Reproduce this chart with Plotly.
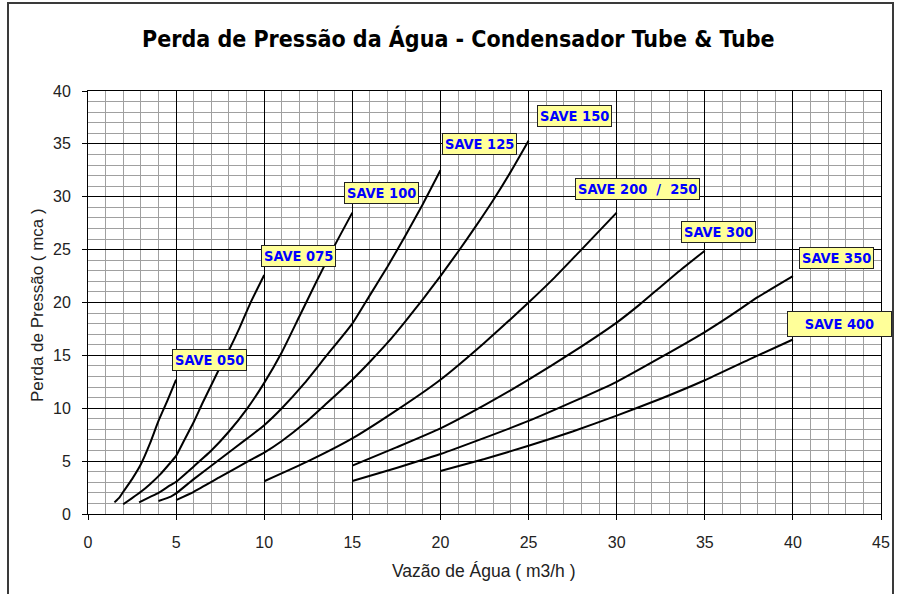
import plotly.graph_objects as go

# ---- data ----
x_050 = [1.5, 1.8, 2.0, 2.5, 3.0, 3.5, 4.0, 4.5, 5.0]
y_050 = [1.1, 1.6, 2.1, 3.3, 4.7, 6.6, 8.8, 10.7, 12.7]

x_075 = [2.0, 2.5, 3.0, 3.5, 4.1, 4.65, 5.0, 5.5, 6.0, 6.5, 7.0, 7.5, 8.0, 8.6, 9.2, 10.0]
y_075 = [0.92, 1.5, 2.1, 2.8, 3.75, 4.8, 5.5, 7.1, 8.7, 10.5, 12.2, 13.9, 15.5, 17.6, 19.9, 22.6]

x_100 = [2.9, 3.5, 4.0, 4.65, 5.0, 6.0, 7.0, 8.0, 9.0, 10.0, 11.0, 12.0, 13.0, 14.0, 15.0]
y_100 = [1.1, 1.6, 2.0, 2.7, 3.05, 4.5, 6.0, 7.8, 9.9, 12.4, 15.3, 18.7, 22.1, 25.4, 28.5]

x_125 = [4.0, 4.7, 5.0, 6.0, 7.5, 9.0, 10.0, 11.0, 12.3, 13.5, 15.0, 16.0, 17.0, 18.0, 19.0, 20.0]
y_125 = [1.23, 1.65, 1.95, 3.3, 5.2, 7.1, 8.4, 10.0, 12.4, 14.9, 18.0, 20.7, 23.4, 26.3, 29.3, 32.5]

x_150 = [5.0, 6.0, 7.5, 9.0, 10.0, 11.0, 12.3, 13.5, 15.0, 16.0, 17.0, 18.0, 19.0, 20.0, 21.0, 22.0, 23.0, 24.0, 25.0]
y_150 = [1.32, 2.1, 3.5, 4.9, 5.8, 6.9, 8.6, 10.4, 12.7, 14.4, 16.2, 18.2, 20.3, 22.5, 24.8, 27.2, 29.7, 32.4, 35.3]

x_200 = [10.0, 12.5, 15.0, 17.5, 20.0, 22.5, 25.0, 26.5, 28.0, 30.0]
y_200 = [3.1, 5.0, 7.15, 9.8, 12.7, 16.2, 20.0, 22.4, 25.0, 28.5]

x_300 = [15.0, 17.5, 20.0, 22.5, 25.0, 27.5, 30.0, 31.3, 32.5, 33.5, 35.0]
y_300 = [4.57, 6.3, 8.1, 10.3, 12.7, 15.3, 18.1, 19.8, 21.5, 22.9, 24.9]

x_350 = [15.0, 17.5, 20.0, 22.5, 25.0, 27.5, 30.0, 32.5, 35.0, 36.5, 38.0, 40.0]
y_350 = [3.12, 4.35, 5.67, 7.2, 8.8, 10.6, 12.5, 14.8, 17.2, 18.8, 20.5, 22.5]

x_400 = [20.0, 22.5, 25.0, 27.5, 30.0, 32.5, 35.0, 37.5, 40.0]
y_400 = [4.07, 5.2, 6.45, 7.8, 9.3, 10.9, 12.65, 14.6, 16.5]

series_x = [x_050, x_075, x_100, x_125, x_150, x_200, x_300, x_350, x_400]
series_y = [y_050, y_075, y_100, y_125, y_150, y_200, y_300, y_350, y_400]
series_names = ["SAVE 050", "SAVE 075", "SAVE 100", "SAVE 125", "SAVE 150",
                "SAVE 200\u00a0\u00a0/\u00a0\u00a0250", "SAVE 300", "SAVE 350", "SAVE 400"]
label_x = [6.92, 11.92, 16.67, 22.24, 27.60, 31.18, 35.77, 42.48, 42.67]
label_y = [14.52, 24.40, 30.33, 34.97, 37.59, 30.73, 26.71, 24.19, 18.0]

x_ticks = [0, 5, 10, 15, 20, 25, 30, 35, 40, 45]
y_ticks = [0, 5, 10, 15, 20, 25, 30, 35, 40]

title_text = "Perda de Pressão da Água - Condensador Tube & Tube"
x_title = "Vazão de Água ( m3/h )"
y_title = "Perda de Pressão ( mca )"

fig = go.Figure()
for xs, ys, nm in zip(series_x, series_y, series_names):
    fig.add_trace(go.Scatter(x=xs, y=ys, mode="lines", name=nm,
                             line=dict(color="black", width=2, shape="spline", smoothing=0.5),
                             showlegend=False, hoverinfo="x+y+name"))

label_font = dict(family="DejaVu Sans Condensed, DejaVu Sans", size=14.5, color="#0000ff")
for lx, ly, nm in zip(label_x, label_y, series_names):
    extra = {}
    if nm == "SAVE 400":
        extra = dict(width=99, height=20)
    fig.add_annotation(x=lx, y=ly, xref="x", yref="y", text="<b>" + nm + "</b>",
                       showarrow=False, xanchor="center", yanchor="middle", align="center",
                       font=label_font, bgcolor="#ffff99", bordercolor="#222222",
                       borderwidth=1, borderpad=2, **extra)

# title
fig.add_annotation(x=0.4666, y=1.123, xref="paper", yref="paper", text="<b>" + title_text + "</b>",
                   showarrow=False, xanchor="center", yanchor="middle",
                   font=dict(family="DejaVu Sans Condensed, DejaVu Sans", size=23, color="black"))
# axis titles
fig.add_annotation(x=(484 - 88) / 793, y=(514 - 570.5) / 423, xref="paper", yref="paper",
                   text=x_title, showarrow=False, xanchor="center", yanchor="middle",
                   font=dict(family="Liberation Sans, Arial", size=17.5, color="#222222"))
fig.add_annotation(x=(37 - 88) / 793, y=(514 - 305) / 423, xref="paper", yref="paper",
                   text=y_title, showarrow=False, xanchor="center", yanchor="middle", textangle=-90,
                   font=dict(family="Liberation Sans, Arial", size=17, color="#222222"))

# outer chart border
fig.add_shape(type="rect", xref="paper", yref="paper",
              x0=(8 - 88) / 793, x1=(893 - 88) / 793, y0=-0.4, y1=1 + (91 - 3) / 423,
              line=dict(color="#3a3a3a", width=2), fillcolor="rgba(0,0,0,0)", layer="above")

axis_common = dict(
    showgrid=True, gridcolor="black", gridwidth=1,
    showline=True, linecolor="black", linewidth=1, mirror=True,
    ticks="outside", ticklen=5, tickcolor="black", tickwidth=1,
    zeroline=False,
    tickfont=dict(family="Liberation Sans, Arial", size=16, color="#222222"),
    minor=dict(dtick=1, showgrid=True, gridcolor="#a0a0a0", gridwidth=1, ticks=""),
    fixedrange=True,
)
fig.update_xaxes(range=[0, 45], tickvals=x_ticks, ticklabelstandoff=9, **axis_common)
fig.update_yaxes(range=[0, 40], tickvals=y_ticks, ticklabelstandoff=8, **axis_common)

fig.update_layout(
    width=904, height=594,
    margin=dict(l=88, r=23, t=91, b=80, pad=0),
    paper_bgcolor="white", plot_bgcolor="white",
)

fig.write_html("out.html", config={"displayModeBar": False},
               post_script="document.body.style.margin='0';document.body.style.overflow='hidden';")
